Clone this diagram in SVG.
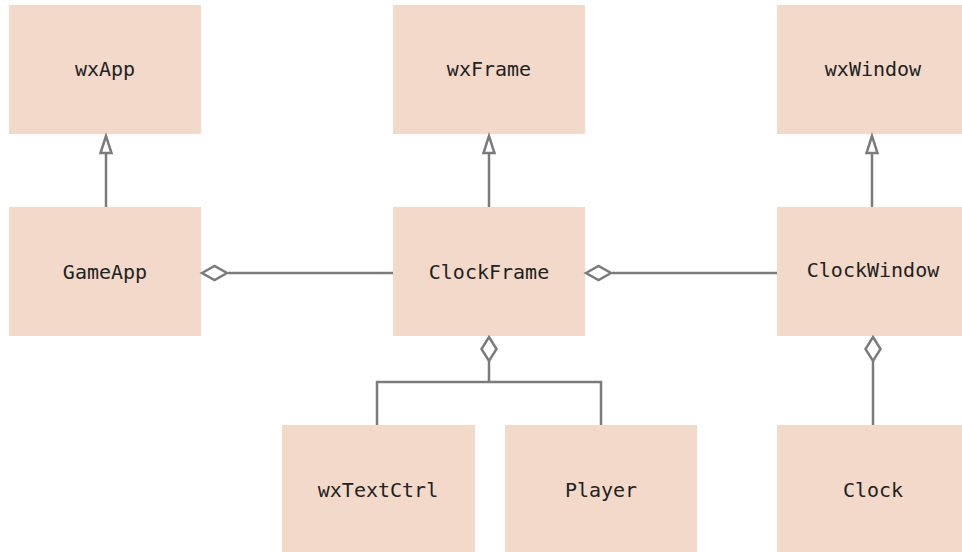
<svg xmlns="http://www.w3.org/2000/svg" width="962" height="552" viewBox="0 0 962 552">
<style>
.box{fill:#f2d9c9}
.lbl{font-family:"DejaVu Sans Mono",monospace;font-size:20px;fill:#222;text-anchor:middle}
.ln{stroke:#7b7b7e;stroke-width:2.5;fill:none}
.hd{stroke:#7b7b7e;stroke-width:2.5;fill:#fff;stroke-linejoin:miter}
</style>
<rect width="962" height="552" fill="#fff"/>
<g id="wxApp"><rect class="box" x="9" y="5" width="192" height="129"/><text class="lbl" x="105" y="76">wxApp</text></g>
<g id="wxFrame"><rect class="box" x="393" y="5" width="192" height="129"/><text class="lbl" x="489" y="76">wxFrame</text></g>
<g id="wxWindow"><rect class="box" x="777" y="5" width="192" height="129"/><text class="lbl" x="873" y="76">wxWindow</text></g>
<g id="GameApp"><rect class="box" x="9" y="207" width="192" height="129"/><text class="lbl" x="105" y="279">GameApp</text></g>
<g id="ClockFrame"><rect class="box" x="393" y="207" width="192" height="129"/><text class="lbl" x="489" y="279">ClockFrame</text></g>
<g id="ClockWindow"><rect class="box" x="777" y="207" width="192" height="129"/><text class="lbl" x="873" y="277">ClockWindow</text></g>
<g id="wxTextCtrl"><rect class="box" x="282" y="425" width="193" height="127"/><text class="lbl" x="378" y="497">wxTextCtrl</text></g>
<g id="Player"><rect class="box" x="505" y="425" width="192" height="127"/><text class="lbl" x="601" y="497">Player</text></g>
<g id="Clock"><rect class="box" x="777" y="425" width="192" height="127"/><text class="lbl" x="873" y="497">Clock</text></g>
<g id="connectors">
<line class="ln" x1="106" y1="153" x2="106" y2="207"/>
<polygon class="hd" points="106,136 100.5,153 111.5,153"/>
<line class="ln" x1="489" y1="153" x2="489" y2="207"/>
<polygon class="hd" points="489,136 483.5,153 494.5,153"/>
<line class="ln" x1="872" y1="153" x2="872" y2="207"/>
<polygon class="hd" points="872,136 866.5,153 877.5,153"/>
<line class="ln" x1="228" y1="273" x2="393" y2="273"/>
<polygon class="hd" points="202,273 214.5,266 227,273 214.5,280"/>
<line class="ln" x1="612" y1="273" x2="777" y2="273"/>
<polygon class="hd" points="586,273 598.5,266 611,273 598.5,280"/>
<polyline class="ln" points="377,425 377,382 601,382 601,425"/>
<line class="ln" x1="489" y1="361" x2="489" y2="382"/>
<polygon class="hd" points="489,337 496.5,349 489,361 481.5,349"/>
<line class="ln" x1="873" y1="361" x2="873" y2="425"/>
<polygon class="hd" points="873,337 880.5,349 873,361 865.5,349"/>
</g>
</svg>
